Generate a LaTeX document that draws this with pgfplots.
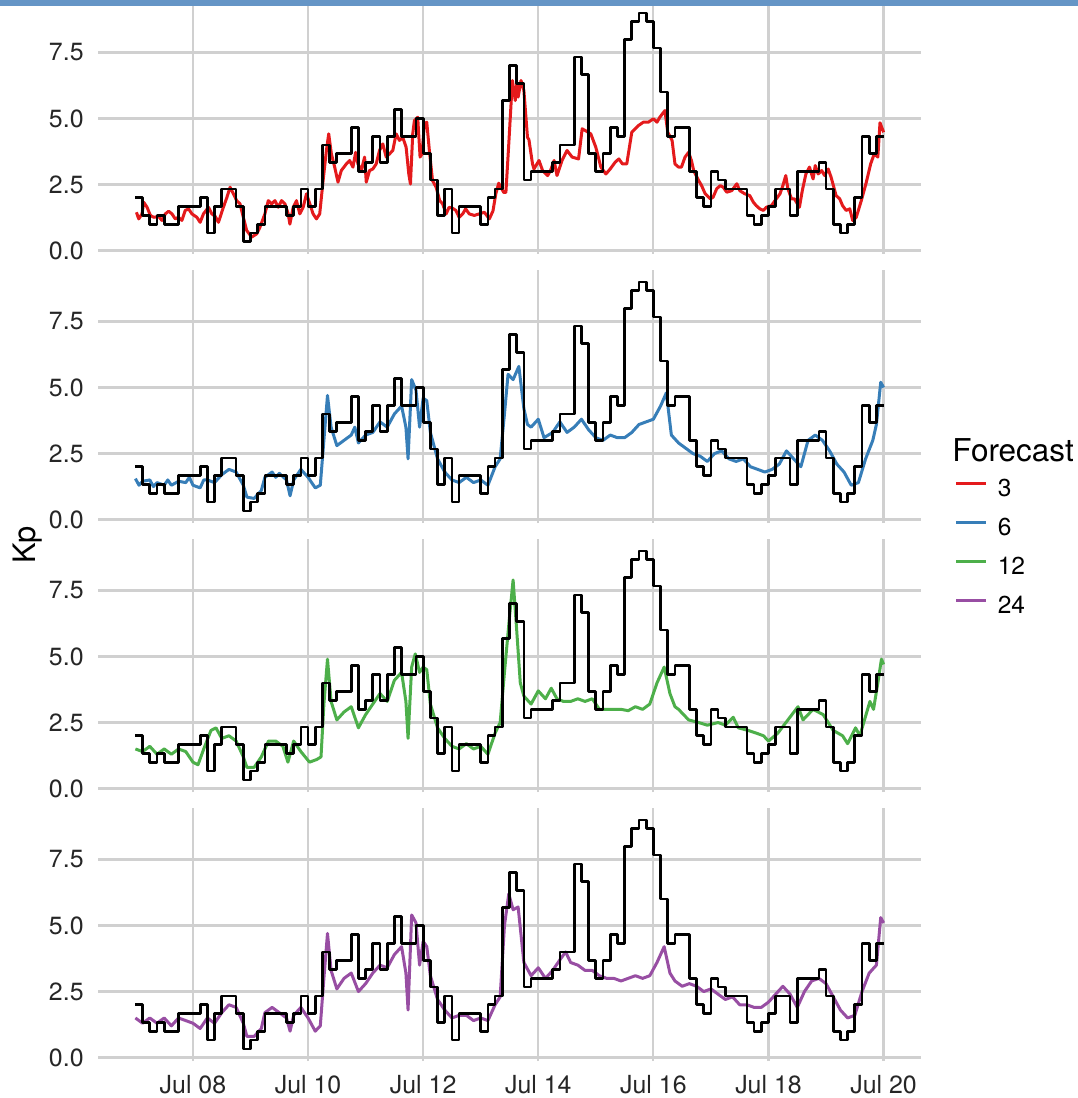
\documentclass[border=0pt]{standalone}
\usepackage{fontspec}
\setmainfont{TeX Gyre Heros}
\usepackage{pgfplots}
\usepackage{pgfplotstable}
\pgfplotsset{compat=1.18}

\definecolor{fcred}{HTML}{E41A1C}
\definecolor{fcblue}{HTML}{377EB8}
\definecolor{fcgreen}{HTML}{4DAF4A}
\definecolor{fcpurple}{HTML}{984EA3}
\definecolor{gridgray}{HTML}{D0D0D0}
\definecolor{barblue}{HTML}{6595C6}

% observed Kp, 3-hour steps from Jul 07 00:00 (x = 3-hour index)
\pgfplotstableread{
i kp
0 2.00
1 1.33
2 1.00
3 1.33
4 1.00
5 1.00
6 1.67
7 1.67
8 1.67
9 2.00
10 0.67
11 1.67
12 2.33
13 2.33
14 1.67
15 0.33
16 0.67
17 1.00
18 1.67
19 1.67
20 1.67
21 1.33
22 1.67
23 2.33
24 1.67
25 2.33
26 4.00
27 3.33
28 3.67
29 3.67
30 4.67
31 3.00
32 3.33
33 4.33
34 3.33
35 4.33
36 5.33
37 4.33
38 4.33
39 5.00
40 3.67
41 2.67
42 1.33
43 2.33
44 0.67
45 1.67
46 1.67
47 1.67
48 1.00
49 2.00
50 2.33
51 5.67
52 7.00
53 6.33
54 2.67
55 3.00
56 3.00
57 3.00
58 3.33
59 4.00
60 4.00
61 7.33
62 6.67
63 3.67
64 3.00
65 3.67
66 4.67
67 4.33
68 8.00
69 8.67
70 9.00
71 8.67
72 7.67
73 6.00
74 4.33
75 4.67
76 4.67
77 3.00
78 2.00
79 1.67
80 3.00
81 2.67
82 2.33
83 2.33
84 2.33
85 1.33
86 1.00
87 1.33
88 1.67
89 2.33
90 2.33
91 1.33
92 3.00
93 3.00
94 3.00
95 3.33
96 2.33
97 1.00
98 0.67
99 1.00
100 2.00
101 4.33
102 3.67
103 4.33
104 4.33
}\obsKp

\pgfplotsset{
  kppanel/.style={
    scale only axis, width=411.5bp, height=126.5bp,
    xmin=-5.2, xmax=109.2, ymin=-0.13, ymax=9.45,
    axis line style={draw=none}, major tick length=0pt,
    grid=major, major grid style={line width=1.1bp, color=gridgray},
    xtick={8,24,40,56,72,88,104}, xticklabels={},
    ytick={0,2.5,5,7.5}, yticklabels={0.0,2.5,5.0,7.5},
    /pgf/number format/assume math mode=true,
    tick label style={font=\fontsize{12.5}{14}\selectfont, text=black!85},
    yticklabel style={anchor=east, inner sep=0pt, xshift=-7bp},
    xticklabel style={anchor=north, inner sep=0pt, yshift=-7bp},
  },
  fcline/.style={line width=1.5bp, line join=round},
  obsline/.style={const plot, black, line width=1.35bp, line join=round, forget plot},
}

\begin{document}
\begin{tikzpicture}
\path[use as bounding box] (0,0) rectangle (539bp,-549bp);

% 3-hour forecast
\begin{axis}[kppanel, at={(49bp,-0.5bp)}, anchor=north west]
\addplot[fcline, fcred, forget plot] coordinates {
(0.14,1.45) (0.46,1.2) (0.92,1.39) (1.15,1.83) (1.62,1.64) (2.08,1.33) (2.54,1.26) (3.23,1.29) (3.69,1.14) (4.16,1.39) (4.62,1.49) (5.08,1.39) (5.54,1.2) (6.0,1.26) (6.46,1.14) (6.93,1.52) (7.39,1.58) (7.85,1.39) (8.54,1.26) (9.0,1.07) (9.46,1.39) (10.16,1.64) (10.62,1.39) (11.08,1.3) (11.54,1.07) (12.23,1.64) (12.7,2.0) (13.16,2.4) (13.62,2.15) (14.08,1.89) (14.54,1.77) (15.0,1.26) (15.47,0.76) (16.16,0.51) (16.85,0.63) (17.31,0.88) (18.0,1.39) (18.47,1.89) (18.93,1.77) (19.39,1.89) (19.85,1.64) (20.31,1.89) (20.78,1.77) (21.24,1.39) (21.47,1.0) (21.93,1.64) (22.39,1.89) (22.85,1.39) (23.32,1.64) (23.78,2.15) (24.24,1.77) (24.7,1.39) (25.16,1.2) (25.62,1.39) (26.09,2.65) (26.55,3.79) (26.87,4.42) (27.24,3.66) (27.7,3.16) (28.16,2.59) (28.62,3.03) (29.32,3.28) (29.78,3.41) (30.24,3.16) (30.61,3.72) (30.93,3.28) (31.39,3.03) (31.86,3.54) (32.09,2.59) (32.55,3.03) (33.01,3.09) (33.47,3.28) (33.93,3.79) (34.39,4.04) (34.86,3.54) (35.32,3.66) (35.78,3.79) (36.24,4.42) (36.7,4.17) (37.16,4.29) (37.63,3.91) (38.0,2.9) (38.23,2.52) (38.55,4.42) (38.78,4.92) (39.24,5.05) (39.57,3.54) (39.84,3.66) (40.17,4.8) (40.5,4.86) (40.86,3.79) (41.3,2.65) (41.8,2.4) (42.3,1.89) (42.7,1.77) (43.2,1.39) (43.6,1.64) (44.1,1.6) (44.55,1.52) (45.0,1.26) (45.5,1.39) (45.9,1.58) (46.4,1.39) (47.1,1.33) (47.8,1.39) (48.5,1.45) (49.2,1.2) (49.7,1.5) (50.1,2.15) (50.5,2.55) (51.2,2.2) (51.5,2.2) (51.9,4.04) (52.4,6.44) (52.8,5.68) (53.0,6.31) (53.2,5.81) (53.6,6.44) (54.0,6.06) (54.5,4.29) (54.7,4.2) (55.2,3.28) (55.4,3.09) (56.1,3.41) (56.6,3.03) (57.3,2.84) (57.7,3.03) (58.2,3.41) (58.6,2.84) (59.3,3.41) (60.0,3.79) (60.7,3.54) (61.6,3.47) (62.1,4.61) (62.5,4.55) (63.3,4.42) (64.0,3.91) (64.7,3.16) (65.4,2.9) (66.0,3.09) (66.7,3.35) (67.2,3.47) (67.7,3.28) (68.3,3.28) (69.0,4.48) (69.9,4.73) (70.6,4.86) (71.3,4.86) (72.0,4.99) (72.5,4.86) (72.9,5.05) (73.6,5.3) (74.0,4.48) (74.6,4.17) (75.0,3.28) (75.5,3.16) (75.9,3.16) (76.4,3.54) (76.9,3.72) (77.3,3.4) (77.6,3.03) (78.3,2.65) (78.7,2.46) (79.2,2.15) (79.9,1.96) (80.3,2.02) (80.8,2.34) (81.3,2.46) (81.7,2.4) (82.2,2.21) (82.9,2.27) (83.6,2.53) (84.0,2.27) (84.7,2.15) (85.4,2.08) (85.9,1.83) (86.3,1.7) (86.8,1.58) (87.3,1.52) (87.7,1.64) (88.4,1.7) (88.9,1.89) (89.6,2.15) (90.0,2.46) (90.4,2.84) (90.7,2.34) (91.2,1.96) (91.6,1.96) (92.3,1.64) (92.7,2.27) (93.2,2.9) (93.7,3.16) (94.2,2.71) (94.5,3.22) (94.9,2.9) (95.4,3.03) (95.8,2.84) (96.3,3.09) (96.7,2.78) (97.4,2.08) (97.9,1.96) (98.3,1.7) (98.8,1.52) (99.3,1.58) (99.7,1.14) (100.2,1.26) (100.9,1.89) (101.6,2.59) (102.2,3.28) (102.7,3.66) (103.2,3.54) (103.5,4.84) (104.0,4.48)
};
\addplot[obsline] table[x=i, y=kp] {\obsKp};
\end{axis}

% 6-hour forecast (carries the legend)
\begin{axis}[kppanel, at={(49bp,-135bp)}, anchor=north west,
  legend style={draw=none, fill=none, at={(rel axis cs:1.0413,0.198)}, anchor=north west,
    inner sep=0pt, outer sep=0pt, column sep=5bp, row sep=0pt,
    font=\fontsize{12.3}{14}\selectfont,
    nodes={inner sep=0pt, text height=12bp, text depth=7.5bp}},
  legend cell align=left,
  legend image code/.code={\draw[#1, line width=1.4bp] (0bp,4.4bp) -- (15bp,4.4bp);}]
\addlegendimage{fcred}\addlegendentry{3}
\addlegendimage{fcblue}\addlegendentry{6}
\addlegendimage{fcgreen}\addlegendentry{12}
\addlegendimage{fcpurple}\addlegendentry{24}
\addplot[fcline, fcblue, forget plot] coordinates {
(0,1.55)(0.5,1.3)(1,1.45)(2,1.5)(2.5,1.25)(3,1.4)(4,1.3)(4.5,1.5)(5,1.3)(6,1.45)(7,1.4)(7.5,1.6)(8,1.3)(9,1.2)(9.5,1.5)(10,1.5)(11,1.4)(12,1.7)(13,1.9)(14,1.8)(15,1.3)(15.5,0.85)(16.5,0.8)(17.5,1.1)(18,1.6)(19,1.8)(19.5,1.6)(20,1.75)(21,1.5)(21.5,0.9)(22,1.5)(23,1.9)(24,1.6)(25,1.2)(25.7,1.3)(26.2,3.0)(26.7,4.7)(27.2,3.5)(28,2.8)(29,3.0)(30,3.2)(30.5,3.5)(31,2.9)(32,3.2)(33,3.3)(34,3.7)(35,3.5)(36,4.0)(37,4.3)(37.6,3.5)(37.9,2.3)(38.4,5.3)(39,4.9)(39.5,3.5)(40,4.6)(40.5,4.5)(41,3.3)(42,2.3)(43,1.8)(44,1.5)(45,1.4)(46,1.6)(47,1.4)(48,1.5)(49,1.3)(50,2.0)(50.7,2.3)(51.3,4.0)(51.8,5.5)(52.5,5.3)(53.3,5.8)(54,4.2)(54.5,3.6)(55,3.5)(56,3.8)(56.8,3.1)(58,3.3)(59,3.7)(60,3.3)(61,3.5)(62,3.8)(63,3.4)(64,3.1)(65,3.0)(66,3.2)(67,3.1)(68,3.1)(69,3.3)(70,3.6)(71,3.7)(72,3.8)(73,4.3)(73.8,4.8)(74.5,3.2)(75.5,2.9)(76.5,2.7)(77.5,2.5)(78.5,2.4)(79.5,2.2)(80.5,2.5)(81.5,2.6)(82.5,2.3)(83.5,2.2)(84.5,2.3)(85.5,2.0)(86.5,1.9)(87.5,1.8)(88.5,1.9)(89.5,2.1)(90.5,2.6)(91.5,2.3)(92.5,2.0)(93.5,3.0)(94.5,3.2)(95.5,3.0)(96.5,2.6)(97.5,2.1)(98.5,1.8)(99.5,1.3)(100.5,1.4)(101.5,2.3)(102.5,3.0)(103,3.6)(103.6,5.2)(104,5.0)
};
\addplot[obsline] table[x=i, y=kp] {\obsKp};
\end{axis}

% 12-hour forecast
\begin{axis}[kppanel, at={(49bp,-269.5bp)}, anchor=north west]
\addplot[fcline, fcgreen, forget plot] coordinates {
(0,1.5)(1,1.4)(2,1.6)(3,1.3)(4,1.5)(5,1.3)(6,1.5)(7,1.4)(8,1.0)(8.7,0.9)(9.5,1.5)(10.5,2.2)(11.2,2.3)(12,1.9)(13,2.0)(14,1.8)(15,1.2)(15.5,0.8)(16.5,0.8)(17.5,1.2)(18.5,1.8)(19.5,1.8)(20.5,1.6)(21.2,1.0)(22,1.8)(23,1.4)(24.2,1.0)(25.2,1.1)(25.8,1.2)(26.2,3.2)(26.7,4.9)(27.2,3.3)(28,2.6)(29,2.9)(30,3.1)(31,2.3)(32,2.8)(33,3.2)(34,3.6)(35,3.3)(36,4.1)(37,4.4)(37.6,3.3)(37.9,1.9)(38.4,4.6)(38.9,5.1)(39.5,4.4)(40,4.6)(40.5,4.5)(41,3.2)(42,2.3)(43,1.9)(44,1.6)(45,1.5)(46,1.7)(47,1.5)(48,1.6)(49,1.3)(50,2.1)(50.7,2.5)(51.3,4.4)(52.0,6.5)(52.5,7.9)(53.0,6.0)(53.5,4.0)(54,3.5)(55,3.2)(56,3.7)(57,3.4)(57.8,3.8)(58.6,3.4)(59.5,3.3)(60.5,3.3)(61.5,3.4)(62.5,3.3)(63.5,3.4)(64.5,3.0)(65.5,3.0)(66.5,3.0)(67.5,3.0)(68.5,2.95)(69.5,3.1)(70.5,3.0)(71.5,3.2)(72.5,4.0)(73.5,4.6)(74.3,3.6)(75,3.1)(75.5,3.0)(76.9,2.6)(78.3,2.5)(79.5,2.4)(81.0,2.5)(82,2.4)(83.1,2.7)(83.8,2.3)(85.2,2.2)(86.3,2.1)(87.3,2.0)(88.0,1.8)(89.3,2.1)(90.7,2.6)(92.1,3.1)(92.8,2.6)(94.2,3.0)(95.6,2.8)(97.0,2.2)(98.3,2.0)(99.0,1.7)(100.1,2.3)(100.7,2.0)(102.1,3.3)(102.6,3.0)(103.2,4.0)(103.7,4.9)(104,4.7)
};
\addplot[obsline] table[x=i, y=kp] {\obsKp};
\end{axis}

% 24-hour forecast
\begin{axis}[kppanel, at={(49bp,-404bp)}, anchor=north west,
  xticklabels={Jul 08,Jul 10,Jul 12,Jul 14,Jul 16,Jul 18,Jul 20}]
\addplot[fcline, fcpurple, forget plot] coordinates {
(0,1.5)(1,1.3)(2,1.5)(3,1.3)(4,1.5)(5,1.2)(6,1.5)(7,1.4)(8,1.3)(9,1.1)(10,1.5)(11,1.3)(12,1.7)(13,2.0)(14,1.9)(15,1.3)(15.5,0.8)(16.5,0.8)(17.5,1.1)(18,1.7)(19,1.9)(20,1.7)(21,1.5)(21.5,1.0)(22,1.6)(23,1.9)(24,1.5)(25,1.0)(25.7,1.2)(26.2,3.0)(26.7,4.7)(27.2,3.3)(28,2.6)(29,3.0)(30,3.2)(31,2.5)(32,2.8)(33,3.2)(34,3.5)(35,3.4)(36,3.9)(37,4.2)(37.6,3.2)(37.9,1.8)(38.4,5.4)(39,5.1)(39.5,3.5)(40,4.4)(40.5,4.2)(41,3.1)(42,2.2)(43,1.8)(44,1.5)(45,1.6)(46,1.6)(47,1.4)(48,1.5)(49,1.4)(50,2.0)(50.7,2.3)(51.3,5.0)(51.9,6.2)(52.5,5.6)(53.2,5.7)(54,3.6)(55,3.1)(56,3.4)(57,3.0)(58,3.3)(59,3.7)(59.8,4.0)(60.5,3.6)(61.5,3.5)(62.5,3.3)(63.5,3.3)(64.5,3.1)(65.5,3.0)(66.5,3.0)(67.5,2.9)(68.5,3.0)(69.5,3.1)(70.5,3.0)(71.5,3.1)(72.5,3.6)(73.5,4.2)(74.3,3.2)(75,2.9)(76,2.7)(77,2.8)(78,2.7)(79,2.5)(80,2.6)(81,2.4)(82,2.2)(83,2.3)(84,2.0)(85,2.0)(86,1.9)(87,1.9)(88,2.1)(89,2.4)(90,2.7)(91,2.4)(92,1.9)(93,2.5)(94,2.9)(95,3.0)(96,2.8)(97,2.3)(98,1.8)(99,1.5)(100,1.6)(101,2.5)(102,3.2)(103,3.5)(103.6,5.3)(104,5.1)
};
\addplot[obsline] table[x=i, y=kp] {\obsKp};
\end{axis}

% axis and legend titles
\node[rotate=90, inner sep=0pt, font=\fontsize{15.5}{18}\selectfont] at (14bp,-272.5bp) {Kp};
\node[anchor=west, inner sep=0pt, font=\fontsize{15.8}{18}\selectfont] at (476bp,-225bp) {Forecast};

% frame band along the top edge
\fill[barblue] (0,0) rectangle (539bp,-2.8bp);
\end{tikzpicture}
\end{document}
